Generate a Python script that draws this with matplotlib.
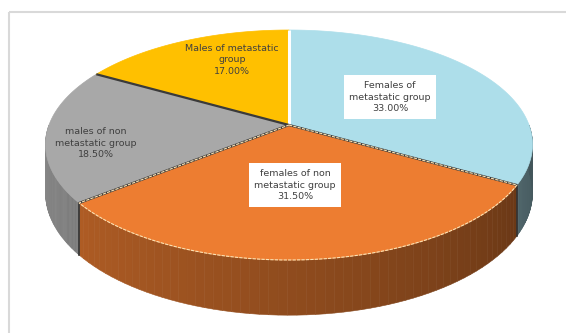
import numpy as np
import matplotlib.pyplot as plt
from matplotlib.patches import Rectangle

# slice data, clockwise from 12 o'clock
labels = ['Females of\nmetastatic group', 'females of non\nmetastatic group',
          'males of non\nmetastatic group', 'Males of metastatic\ngroup']
shares = [33.00, 31.50, 18.50, 17.00]
top_colors = ['#addeea', '#ed7d31', '#a8a8a8', '#ffc000']
label_boxed = [True, True, False, False]

# pseudo 3d layout (pixel space)
cx, cy = 289, 125
a, b = 240, 115
persp = 0.174
depth = 47


def project(theta, drop=0.0):
    u, v = np.cos(theta), np.sin(theta)
    s = 1 - persp * v
    return cx + a * u * s, cy - b * v * s + depth * s * drop


def shade(hexcol, f):
    rgb = np.array([int(hexcol[i:i + 2], 16) for i in (1, 3, 5)]) / 255
    return tuple(np.clip(rgb * f, 0, 1))


fig = plt.figure(figsize=(5.66, 3.33), dpi=100)
ax = fig.add_axes([0, 0, 1, 1])
ax.set_xlim(0, 566)
ax.set_ylim(333, 0)
ax.axis('off')

# chart area border
ax.add_patch(Rectangle((9, 12), 600, 400, fill=False, edgecolor='#d9d9d9', lw=1.5))

fracs = np.array(shares) / sum(shares)
starts = np.pi / 2 - 2 * np.pi * np.concatenate([[0], np.cumsum(fracs)[:-1]])
ends = starts - 2 * np.pi * fracs

# side walls, only the front half (-pi..0) shows
for i in range(len(shares)):
    lo, hi = max(ends[i], -np.pi), min(starts[i], 0)
    if lo >= hi:
        continue
    ts = np.linspace(lo, hi, 60)
    for t0, t1 in zip(ts[:-1], ts[1:]):
        f = 0.38 + 0.45 * (-(t0 + t1) / 2) / np.pi
        xs0, ys0 = project(np.array([t0, t1]))
        xs1, ys1 = project(np.array([t1, t0]), 1.0)
        col = shade(top_colors[i], f)
        ax.fill(np.r_[xs0, xs1], np.r_[ys0, ys1], color=col, lw=0.4, ec=col)

# dark seams where side walls meet
for t in ends[:-1]:
    if -np.pi < t < 0:
        x0, y0 = project(t)
        x1, y1 = project(t, 1.0)
        ax.plot([x0, x1], [y0, y1], color='#333333', lw=1.2)

# top faces
for i in range(len(shares)):
    ts = np.linspace(starts[i], ends[i], 200)
    xs, ys = project(ts)
    ax.fill(np.r_[cx, xs], np.r_[cy, ys], color=top_colors[i], ec=top_colors[i], lw=0.5)

# slice borders on the top face
for i, t in enumerate(starts):
    x1, y1 = project(t)
    col, lw = ('white', 2.2) if i == 0 else ('#3a3a3a', 1.6)
    ax.plot([cx, x1], [cy, y1], color=col, lw=lw, solid_capstyle='butt')

# light rim on the orange slice
ts = np.linspace(starts[1], ends[1], 200)
xs, ys = project(ts)
ax.plot(np.r_[cx, xs, cx], np.r_[cy, ys, cy], color='#fbe2b4', lw=0.8, ls=(0, (3, 1)))

# data labels
label_pos = [(390, 97), (295, 185), (96, 143), (232, 60)]
for i, (lx, ly) in enumerate(label_pos):
    txt = f'{labels[i]}\n{shares[i]:.2f}%'
    box = dict(boxstyle='square,pad=0.6', fc='white', ec='none') if label_boxed[i] else None
    ax.text(lx, ly, txt, ha='center', va='center', fontsize=6.8, color='#404040',
            linespacing=1.35, bbox=box)

fig.savefig('out.png', dpi=100, facecolor='white')
